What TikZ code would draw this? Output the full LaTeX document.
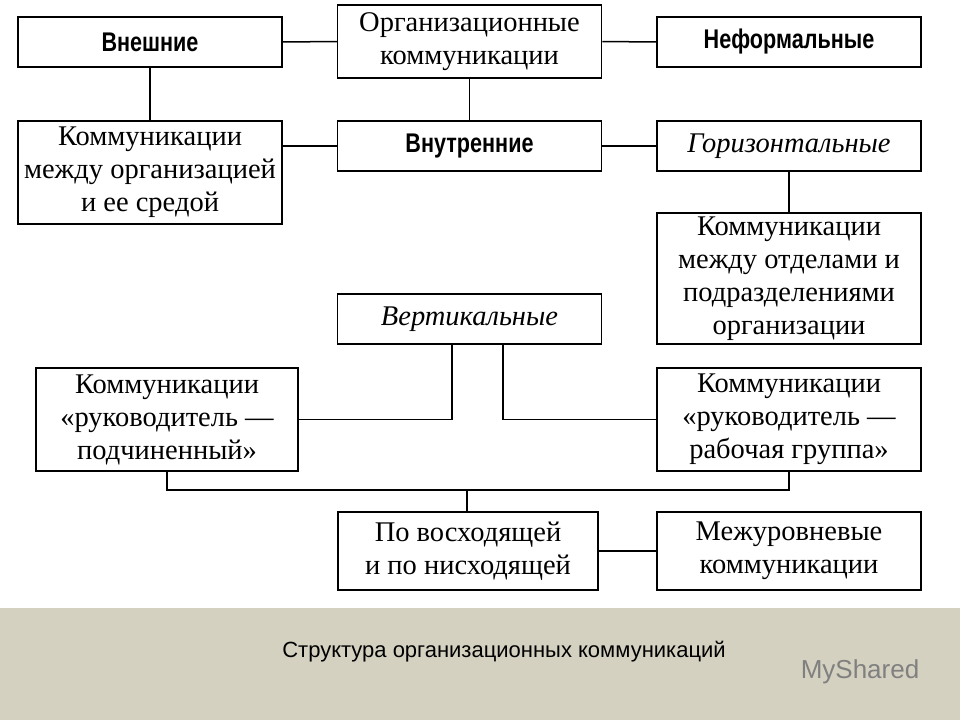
\documentclass[tikz,border=0pt]{standalone}
\usepackage{fontspec}
\setmainfont{Liberation Serif}
\newfontfamily\capfont{Liberation Sans}
\newfontfamily\narrowfont{Liberation Sans}[FakeStretch=0.8]
\usetikzlibrary{positioning}
\definecolor{band}{RGB}{212,209,192}
\begin{document}
\begin{tikzpicture}[x=1pt,y=-1pt]

\tikzstyle{box}=[draw, line width=1.5pt, minimum width=264pt, inner sep=0pt, align=center, font=\fontsize{28.5}{33}\selectfont]
\tikzstyle{head}=[box, font=\fontsize{27}{33}\selectfont\bfseries\narrowfont]
\tikzstyle{link}=[line width=1.5pt]

\useasboundingbox (0,0) rectangle (960,720);
\fill[band] (0,608) rectangle (960,720);

\node (orgcom) [box, minimum height=73pt] at (469.5,41.5) {Организационные\\коммуникации};
\node (extern) [head, minimum height=50pt] at (150,42) {Внешние};
\node (inform) [head, minimum height=50pt] at (789,42) {Неформальные};
\node (envcom) [box, minimum height=103pt] at (150,172.5) {Коммуникации\\между организацией\\и ее средой};
\node (intern) [head, minimum height=50pt] at (469.5,146) {Внутренние};
\node (horiz) [box, minimum height=50pt, font=\fontsize{28.5}{33}\selectfont\itshape] at (789,146) {Горизонтальные};
\node (depcom) [box, minimum height=131pt] at (789,278.5) {Коммуникации\\между отделами и\\подразделениями\\организации};
\node (vert) [box, minimum height=50pt, font=\fontsize{28.5}{33}\selectfont\itshape] at (469.5,319) {Вертикальные};
\node (bosscom) [box, minimum width=262pt, minimum height=103pt] at (167,419.5) {Коммуникации\\«руководитель —\\подчиненный»};
\node (groupcom) [box, minimum height=103pt] at (789,419.5) {Коммуникации\\«руководитель —\\рабочая группа»};
\node (updown) [box, minimum width=260pt, minimum height=78pt] at (468,551) {По восходящей\\и по нисходящей};
\node (cross) [box, minimum height=78pt] at (789,551) {Межуровневые\\коммуникации};

\node (caption) [font=\fontsize{22}{26}\selectfont\capfont] at (504,652) {Структура организационных коммуникаций};
\node (logo) [font=\fontsize{26}{30}\selectfont\capfont, text=gray] at (860,672) {MyShared};

\coordinate (join) at (467,490);

\draw [link] (extern) -- (orgcom);
\draw [link] (orgcom) -- (inform);
\draw [link] (extern) -- (envcom);
\draw [link] (orgcom) -- (intern);
\draw [link] (envcom.east |- intern) -- (intern);
\draw [link] (intern) -- (horiz);
\draw [link] (horiz) -- (depcom);
\draw [link] (vert.south -| 452,0) |- (bosscom.east);
\draw [link] (vert.south -| 503,0) |- (groupcom.west);
\draw [link] (bosscom.south) |- (join) -| (groupcom.south);
\draw [link] (join) -- (updown.north -| join);
\draw [link] (updown) -- (cross);

\end{tikzpicture}
\end{document}
